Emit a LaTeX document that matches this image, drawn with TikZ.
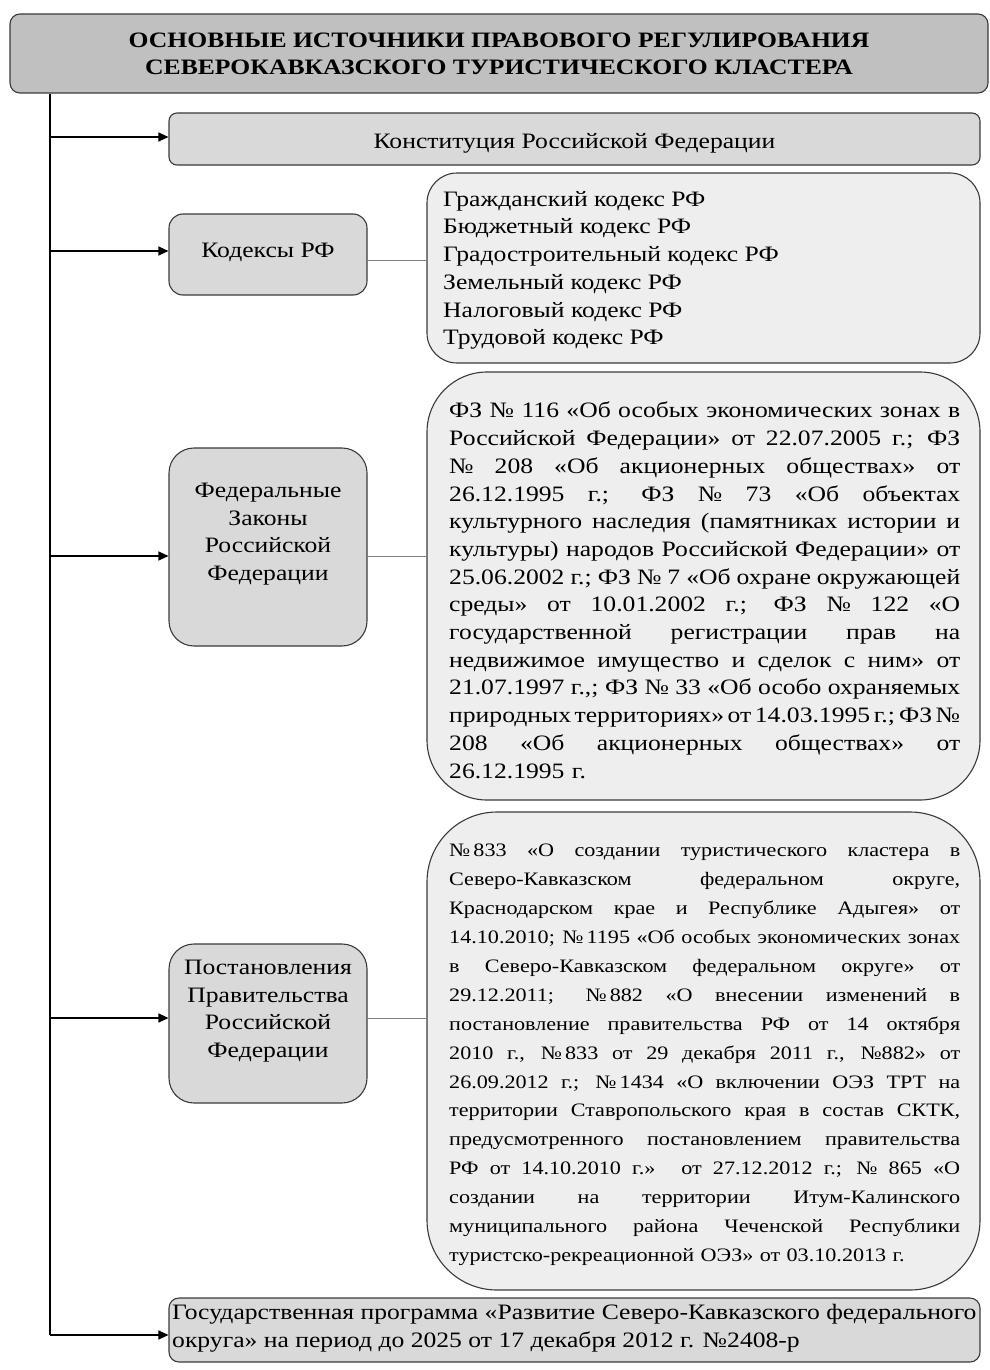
\documentclass[tikz,border=0pt]{standalone}
\usepackage{fontspec}
\setmainfont{Liberation Serif}[BoldFont={Liberation Serif Bold},FakeStretch=1.165]
\usetikzlibrary{arrows.meta}
\definecolor{titlefill}{HTML}{C0C0C0}
\definecolor{midfill}{HTML}{D9D9D9}
\definecolor{lightfill}{HTML}{EEEEEE}
\definecolor{edgecol}{HTML}{3A3A3A}
\newcommand{\JL}[1]{{\spaceskip=0.25em plus 2em minus 0.22em\xspaceskip=0pt\makebox[511pt][s]{#1}}}
\begin{document}
\begin{tikzpicture}[x=1pt,y=-1pt,
  box/.style={draw=edgecol,line width=1.1pt,inner sep=0pt},
  trunk/.style={line width=1.2pt,black},
  arr/.style={line width=1.2pt,black,-{Triangle[length=10pt,width=9pt]}},
  link/.style={line width=0.6pt,gray},
  maintxt/.style={font=\fontsize{22}{27.7}\selectfont,inner sep=0pt},
  posttxt/.style={font=\fontsize{19}{28.9}\selectfont,inner sep=0pt}]
\useasboundingbox (0,0) rectangle (989,1370);

% boxes
\node[box,fill=titlefill,rounded corners=10pt,minimum width=978pt,minimum height=79pt,
  font=\fontsize{22}{27}\selectfont\bfseries,align=center] (title) at (499,53.5)
  {ОСНОВНЫЕ ИСТОЧНИКИ ПРАВОВОГО РЕГУЛИРОВАНИЯ\\СЕВЕРОКАВКАЗСКОГО ТУРИСТИЧЕСКОГО КЛАСТЕРА};
\node[box,fill=midfill,rounded corners=8pt,minimum width=811pt,minimum height=52pt,
  text height=20pt,text depth=0pt,
  font=\fontsize{22}{27}\selectfont] (konst) at (574.5,139) {Конституция Российской Федерации};

\node[box,fill=midfill,rounded corners=14pt,minimum width=198pt,minimum height=81pt] (kod) at (268,254.5) {};
\node[box,fill=lightfill,rounded corners=30pt,minimum width=553pt,minimum height=190pt] (codes) at (703.5,268) {};

\node[box,fill=midfill,rounded corners=25pt,minimum width=198pt,minimum height=198pt] (fz) at (268,547) {};
\node[box,fill=lightfill,rounded corners=60pt,minimum width=553pt,minimum height=428pt] (fzbox) at (703.5,586) {};

\node[box,fill=midfill,rounded corners=25pt,minimum width=198pt,minimum height=159pt] (post) at (268,1023.5) {};
\node[box,fill=lightfill,rounded corners=70pt,minimum width=553pt,minimum height=478pt] (postbox) at (703.5,1051) {};

\node[box,fill=midfill,rounded corners=10pt,minimum width=811pt,minimum height=64pt] (gos) at (574.5,1330) {};

% texts
\node[maintxt] (kodT) at (268,252) {Кодексы РФ};
\node[maintxt,align=center] (fzT) at (268,534) {Федеральные\\Законы\\Российской\\Федерации};
\node[maintxt,align=center] (postT) at (268,1011) {Постановления\\Правительства\\Российской\\Федерации};

\node[maintxt,anchor=north west,align=left] (codesT) at (443,191)
 {Гражданский кодекс РФ\\Бюджетный кодекс РФ\\Градостроительный кодекс РФ\\Земельный кодекс РФ\\Налоговый кодекс РФ\\Трудовой кодекс РФ};

\node[maintxt,anchor=north west,text width=511pt,align=left] (fzboxT) at (449,402)
 {\JL{ФЗ № 116 «Об особых экономических зонах в}\\
  \JL{Российской Федерации» от 22.07.2005 г.; ФЗ}\\
  \JL{№ 208 «Об акционерных обществах» от}\\
  \JL{26.12.1995 г.; ФЗ № 73 «Об объектах}\\
  \JL{культурного наследия (памятниках истории и}\\
  \JL{культуры) народов Российской Федерации» от}\\
  \JL{25.06.2002 г.; ФЗ № 7 «Об охране окружающей}\\
  \JL{среды» от 10.01.2002 г.; ФЗ № 122 «О}\\
  \JL{государственной регистрации прав на}\\
  \JL{недвижимое имущество и сделок с ним» от}\\
  \JL{21.07.1997 г.,; ФЗ № 33 «Об особо охраняемых}\\
  \JL{природных территориях» от 14.03.1995 г.; ФЗ №}\\
  \JL{208 «Об акционерных обществах» от}\\
  26.12.1995 г.};

\node[posttxt,anchor=north west,text width=511pt,align=left] (postboxT) at (449,844)
 {\JL{№\,833 «О создании туристического кластера в}\\
  \JL{Северо-Кавказском федеральном округе,}\\
  \JL{Краснодарском крае и Республике Адыгея» от}\\
  \JL{14.10.2010; №\,1195 «Об особых экономических зонах}\\
  \JL{в Северо-Кавказском федеральном округе» от}\\
  \JL{29.12.2011; №\,882 «О внесении изменений в}\\
  \JL{постановление правительства РФ от 14 октября}\\
  \JL{2010 г., №\,833 от 29 декабря 2011 г., №882» от}\\
  \JL{26.09.2012 г.; №\,1434 «О включении ОЭЗ ТРТ на}\\
  \JL{территории Ставропольского края в состав СКТК,}\\
  \JL{предусмотренного постановлением правительства}\\
  \JL{РФ от 14.10.2010 г.» от 27.12.2012 г.; № 865 «О}\\
  \JL{создании на территории Итум-Калинского}\\
  \JL{муниципального района Чеченской Республики}\\
  туристско-рекреационной ОЭЗ» от 03.10.2013 г.};

\node[maintxt,anchor=north west,align=left] (gosT) at (172,1304)
 {Государственная программа «Развитие Северо-Кавказского федерального\\округа» на период до 2025 от 17 декабря 2012 г. №2408-р};

% trunk and arrows
\coordinate (a1) at (50,137);
\coordinate (a2) at (50,251);
\coordinate (a3) at (50,556);
\coordinate (a4) at (50,1018);
\coordinate (a5) at (50,1335);
\draw[trunk] (title.south -| a1) -- (a5);
\draw[arr] (a1) -- (a1 -| konst.west);
\draw[arr] (a2) -- (a2 -| kod.west);
\draw[arr] (a3) -- (a3 -| fz.west);
\draw[arr] (a4) -- (a4 -| post.west);
\draw[arr] (a5) -- (a5 -| gos.west);

% links
\path ([yshift=-5.5pt]kod.east) coordinate (l1);
\draw[link] (l1) -- (l1 -| codes.west);
\path (fz.east |- a3) coordinate (l2);
\draw[link] (l2) -- (l2 -| fzbox.west);
\path (post.east |- a4) coordinate (l3);
\draw[link] (l3) -- (l3 -| postbox.west);
\end{tikzpicture}
\end{document}
